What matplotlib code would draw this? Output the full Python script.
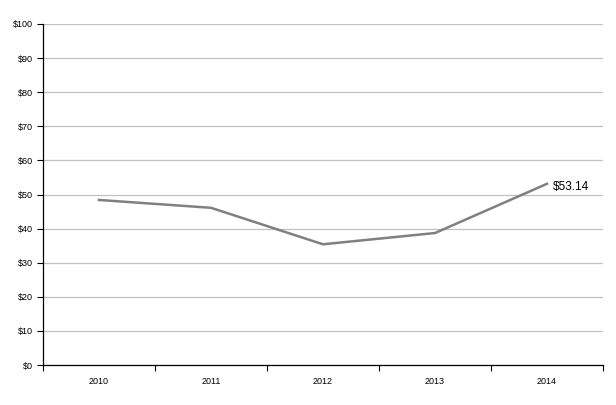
import matplotlib
matplotlib.use("Agg")
import matplotlib.pyplot as plt
from matplotlib.ticker import FixedLocator

years = ["2010", "2011", "2012", "2013", "2014"]
values = [48.4, 46.1, 35.4, 38.7, 53.14]
y_ticks = list(range(0, 101, 10))
y_labels = [f"${v}" for v in y_ticks]

plt.rcParams['font.family'] = ['Liberation Sans', 'DejaVu Sans']

fig = plt.figure(figsize=(6.16, 4.05), dpi=100)
ax = fig.add_axes([43/616, 40/405, 560/616, 341/405])

x = [i + 0.5 for i in range(len(years))]
ax.plot(x, values, color="#808080", lw=1.8, solid_joinstyle='miter', zorder=3)
ax.text(x[-1] + 0.05, values[-1] - 1.0, f"${values[-1]:.2f}", fontsize=8.5, va='center', ha='left')

ax.set_xlim(0, len(years))
ax.set_ylim(0, 100)
ax.set_yticks(y_ticks)
ax.set_yticklabels(y_labels, fontsize=6.5)
ax.xaxis.set_major_locator(FixedLocator(range(len(years) + 1)))
ax.set_xticklabels([])
ax.set_xticks(x, minor=True)
ax.set_xticklabels(years, minor=True, fontsize=6.5)
ax.tick_params(axis='x', which='minor', length=0, pad=9)
ax.tick_params(axis='x', which='major', length=4, width=0.8, direction='out')
ax.tick_params(axis='y', length=4, width=0.8, direction='out', pad=3)

ax.grid(axis='y', color="#c0c0c0", lw=0.9)
ax.set_axisbelow(True)
for s in ['top', 'right']:
    ax.spines[s].set_visible(False)
for s in ['left', 'bottom']:
    ax.spines[s].set_linewidth(0.9)

fig.savefig("out.png", dpi=100)
